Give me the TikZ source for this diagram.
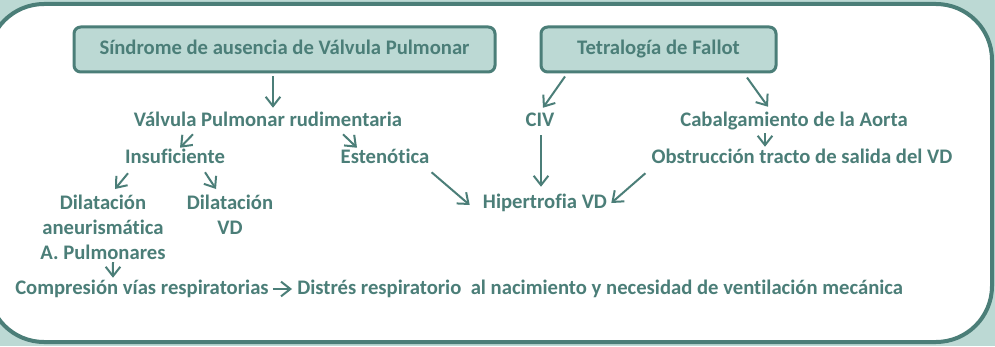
\documentclass[tikz,border=0pt]{standalone}
\usepackage{fontspec}
\setmainfont[Ligatures=NoCommon]{Carlito}
\usetikzlibrary{arrows.meta}
\definecolor{tealdark}{HTML}{4B7E78}
\definecolor{teallight}{HTML}{BCD9D4}

\begin{document}
\begin{tikzpicture}[x=0.75pt,y=-0.75pt,
  txt/.style={text=tealdark,font=\bfseries\fontsize{15.5}{18.7}\selectfont,inner sep=0pt},
  line/.style={txt,text height=10pt,text depth=2pt},
  box/.style={line,draw=tealdark,fill=teallight,line width=2.25pt,rounded corners=5pt,minimum height=33.75pt},
  arr/.style={draw=tealdark,line width=1.5pt,-{Straight Barb[length=7pt,width=11pt]}}]
\useasboundingbox (0,0) rectangle (995,346);
\fill[teallight] (0,0) rectangle (995,346);
\draw[tealdark,fill=white,line width=3pt,rounded corners=42] (-12,4) rectangle (992,342);

\node[box,minimum width=315.75pt] (sapv) at (284.5,49.5) {Síndrome de ausencia de Válvula Pulmonar};
\node[box,minimum width=176.25pt] (tf) at (658.5,49.5) {Tetralogía de Fallot};

\node[line] (vpr) at (268,121) {Válvula Pulmonar rudimentaria};
\node[line] (ins) at (175,158) {Insuficiente};
\node[line] (est) at (385,158) {Estenótica};
\node[txt,align=center,anchor=north] (dan) at (103,195) {Dilatación\\aneurismática\\A. Pulmonares};
\node[txt,align=center,anchor=north] (dvd) at (230,195) {Dilatación\\VD};
\node[line,anchor=west] (comp) at (15,289) {Compresión vías respiratorias};
\node[line,anchor=west] (dis) at (297,289) {Distrés respiratorio\ \ al nacimiento y necesidad de ventilación mecánica};

\node[line] (civ) at (540,121) {CIV};
\node[line] (cab) at (794,121) {Cabalgamiento de la Aorta};
\node[line] (obs) at (802,158) {Obstrucción tracto de salida del VD};
\node[line] (hvd) at (545,203) {Hipertrofia VD};

\draw[arr] ([shift={(-11.5,3)}]sapv.south) -- ([shift={(5,-5)}]vpr.north);
\draw[arr] ([shift={(-75,5)}]vpr.south) -- ([shift={(5,-2)}]ins.north);
\draw[arr] ([shift={(75,5)}]vpr.south) -- ([shift={(-28,-2)}]est.north);
\draw[arr] ([shift={(-47,7)}]ins.south) -- ([shift={(12,-6)}]dan.north);
\draw[arr] ([shift={(30,6)}]ins.south) -- ([shift={(-14,-6)}]dvd.north);
\draw[arr] ([shift={(10,2)}]dan.south) -- ([shift={(-29,-3)}]comp.north);
\draw[arr] ([shift={(4,0)}]comp.east) -- ([shift={(-5,0)}]dis.west);
\draw[arr] ([shift={(2,6)}]est.south east) -- ([shift={(-13,2)}]hvd.west);

\draw[arr] ([shift={(-93.5,3)}]tf.south) -- ([shift={(3,-5)}]civ.north);
\draw[arr] ([shift={(88.5,4)}]tf.south) -- ([shift={(-26,-6)}]cab.north);
\draw[arr] ([shift={(-29,4)}]cab.south) -- ([shift={(-37,-3)}]obs.north);
\draw[arr] ([shift={(1,6)}]civ.south) -- ([shift={(-4,-8)}]hvd.north);
\draw[arr] ([shift={(-6,7)}]obs.south west) -- ([shift={(4,0)}]hvd.east);
\end{tikzpicture}
\end{document}
